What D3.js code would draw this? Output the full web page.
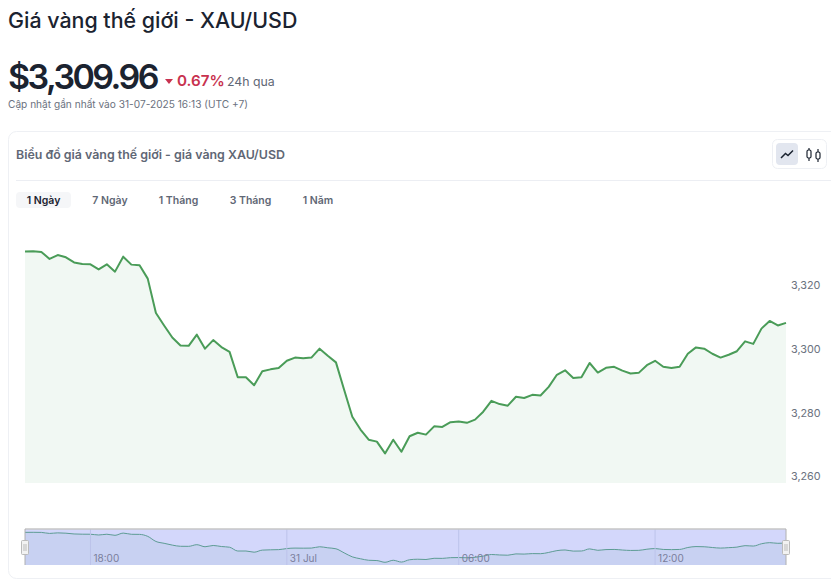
<!DOCTYPE html>
<html><head><meta charset="utf-8">
<script src="https://cdn.jsdelivr.net/npm/d3@7/dist/d3.min.js"></script>
<style>html,body{margin:0;padding:0;background:#fff;overflow:hidden}svg{display:block}text{font-family:Inter,"Noto Sans",sans-serif}</style>
</head><body><svg id="c" width="831" height="580"></svg>
<script>
const prices = [3330.5,3330.6,3330.4,3328.2,3329.4,3328.7,3327.1,3326.6,3326.5,3324.9,3326.5,3324.2,3328.9,3326.4,3326.2,3322.0,
3311.2,3307.3,3303.5,3301.0,3300.9,3304.4,3300.0,3302.7,3300.5,3299.0,3291.0,3291.0,3288.5,3292.9,3293.5,3293.9,
3296.2,3297.2,3297.0,3297.2,3300.0,3297.8,3295.7,3287.1,3278.6,3274.6,3271.4,3270.8,3267.1,3271.4,3267.6,3272.5,
3273.6,3273.0,3275.6,3275.4,3276.9,3277.1,3276.7,3277.7,3280.2,3283.6,3282.6,3282.1,3284.9,3284.5,3285.5,3285.3,
3288.0,3291.8,3293.2,3290.8,3291.0,3295.5,3292.5,3294.0,3294.3,3293.1,3292.2,3292.4,3294.8,3296.2,3294.3,3293.9,
3294.3,3298.4,3300.4,3300.0,3298.4,3297.2,3298.1,3299.2,3302.3,3301.5,3306.3,3308.7,3307.3,3308.1];
const yTicks = [3260,3280,3300,3320];
const sliderTickIndex = [8,32,53,77];
const sliderTickLabels = ["18:00","31 Jul","06:00","12:00"];
const tabs = ["1 Ngày","7 Ngày","1 Tháng","3 Tháng","1 Năm"];

const svg = d3.select("#c");
const text = (x,y,s,size,weight,fill,anchor)=>svg.append("text").attr("x",x).attr("y",y).attr("font-size",size)
  .attr("font-weight",weight).attr("fill",fill).attr("text-anchor",anchor||"start").text(s);

text(8,28,"Giá vàng thế giới - XAU/USD",21.4,500,"#1b2330");
text(8,89,"$3,309.96",34,600,"#1b2330").attr("letter-spacing","-2.55");
svg.append("path").attr("d",d3.line()([[165,79],[173,79],[169,84]])+"Z").attr("fill","#c8324f");
text(177,85.5,"0.67%",15.2,600,"#c8324f");
text(227,86,"24h qua",12.3,400,"#5f6775");
text(8,108,"Cập nhật gần nhất vào 31-07-2025 16:13 (UTC +7)",10.15,400,"#6b7280");

svg.append("rect").attr("x",8.5).attr("y",131.5).attr("width",840).attr("height",447).attr("rx",8)
  .attr("fill","#fff").attr("stroke","#eef0f4");
svg.append("line").attr("x1",16).attr("x2",831).attr("y1",180.5).attr("y2",180.5).attr("stroke","#eceef3");
text(16,159,"Biểu đồ giá vàng thế giới - giá vàng XAU/USD",12.4,600,"#5f6775");

// switcher
svg.append("rect").attr("x",772.5).attr("y",139.5).attr("width",54).attr("height",29).attr("rx",5).attr("fill","#fff").attr("stroke","#eef0f4");
svg.append("rect").attr("x",776).attr("y",143).attr("width",22).attr("height",22).attr("rx",4).attr("fill","#e2e6ef");
svg.append("path").attr("d","M781 158L785.5 153.5L788 155.5L793 150.5").attr("fill","none").attr("stroke","#1b2330").attr("stroke-width",1.5);
[[809,148,161,150,158],[818,149,162,152,159]].forEach(([x,a,b,c,d])=>{
  svg.append("line").attr("x1",x).attr("x2",x).attr("y1",a).attr("y2",b).attr("stroke","#1b2330").attr("stroke-width",1.2);
  svg.append("rect").attr("x",x-2).attr("y",c).attr("width",4).attr("height",d-c).attr("rx",1.5).attr("fill","#fff").attr("stroke","#1b2330").attr("stroke-width",1.2);
});

// tabs
svg.append("rect").attr("x",16).attr("y",192).attr("width",55).attr("height",16).attr("rx",4).attr("fill","#f5f6f8");
const tabX=[43.5,110,178.5,250.5,318];
tabs.forEach((t,i)=>text(tabX[i],204,t,10.5,600,i==0?"#1b2330":"#5f6775","middle"));

// main chart
const x = d3.scaleLinear().domain([0,prices.length-1]).range([25,786]);
const y = d3.scaleLinear().domain([3260,3320]).range([476,285]);
const bottom = 483;
svg.append("path").attr("d",d3.area().x((d,i)=>x(i)).y0(bottom).y1(d=>y(d))(prices)).attr("fill","#f1f8f3");
svg.append("path").attr("d",d3.line().x((d,i)=>x(i)).y(d=>y(d))(prices)).attr("fill","none").attr("stroke","#4a9c58").attr("stroke-width",2).attr("stroke-linejoin","round");
const axis = svg.append("g").attr("transform","translate(791,0.5)").call(d3.axisRight(y).tickValues(yTicks).tickSize(0).tickPadding(0).tickFormat(d3.format(",")));
axis.select(".domain").remove();
axis.selectAll("text").attr("font-size",10.8).attr("fill","#6b7280").attr("font-family","Inter,sans-serif");

// slider
const sy = d3.scaleLinear().domain([3267.1,3330.6]).range([562.3,532.3]);
const sTop=529,sBot=565;
svg.append("rect").attr("x",25).attr("y",sTop).attr("width",761).attr("height",sBot-sTop).attr("fill","#d3d7fb");
svg.append("path").attr("d",d3.area().curve(d3.curveMonotoneX).x((d,i)=>x(i)).y0(sBot).y1(d=>sy(d))(prices)).attr("fill","#c8d1f2");
svg.append("path").attr("d",d3.line().curve(d3.curveMonotoneX).x((d,i)=>x(i)).y(d=>sy(d))(prices)).attr("fill","none").attr("stroke","#5d9c94").attr("stroke-width",1);
sliderTickIndex.forEach((t,i)=>{
  svg.append("line").attr("x1",x(t)).attr("x2",x(t)).attr("y1",sTop).attr("y2",sBot).attr("stroke","#bcc3ea");
  text(x(t)+3,562,sliderTickLabels[i],10,400,"#7a7e9b");
});
svg.append("line").attr("x1",25).attr("x2",786).attr("y1",529).attr("y2",529).attr("stroke","#c6c6c6").attr("stroke-width",1.5);
[25,786].forEach(h=>{
  svg.append("line").attr("x1",h).attr("x2",h).attr("y1",sTop).attr("y2",sBot).attr("stroke","#b0b0b0");
  svg.append("rect").attr("x",h-3.5).attr("y",540.5).attr("width",7).attr("height",14).attr("rx",1).attr("fill","#f2f2f2").attr("stroke","#bbb");
  svg.append("line").attr("x1",h-1).attr("x2",h-1).attr("y1",544).attr("y2",551).attr("stroke","#bbb");
  svg.append("line").attr("x1",h+1).attr("x2",h+1).attr("y1",544).attr("y2",551).attr("stroke","#bbb");
});
</script></body></html>
